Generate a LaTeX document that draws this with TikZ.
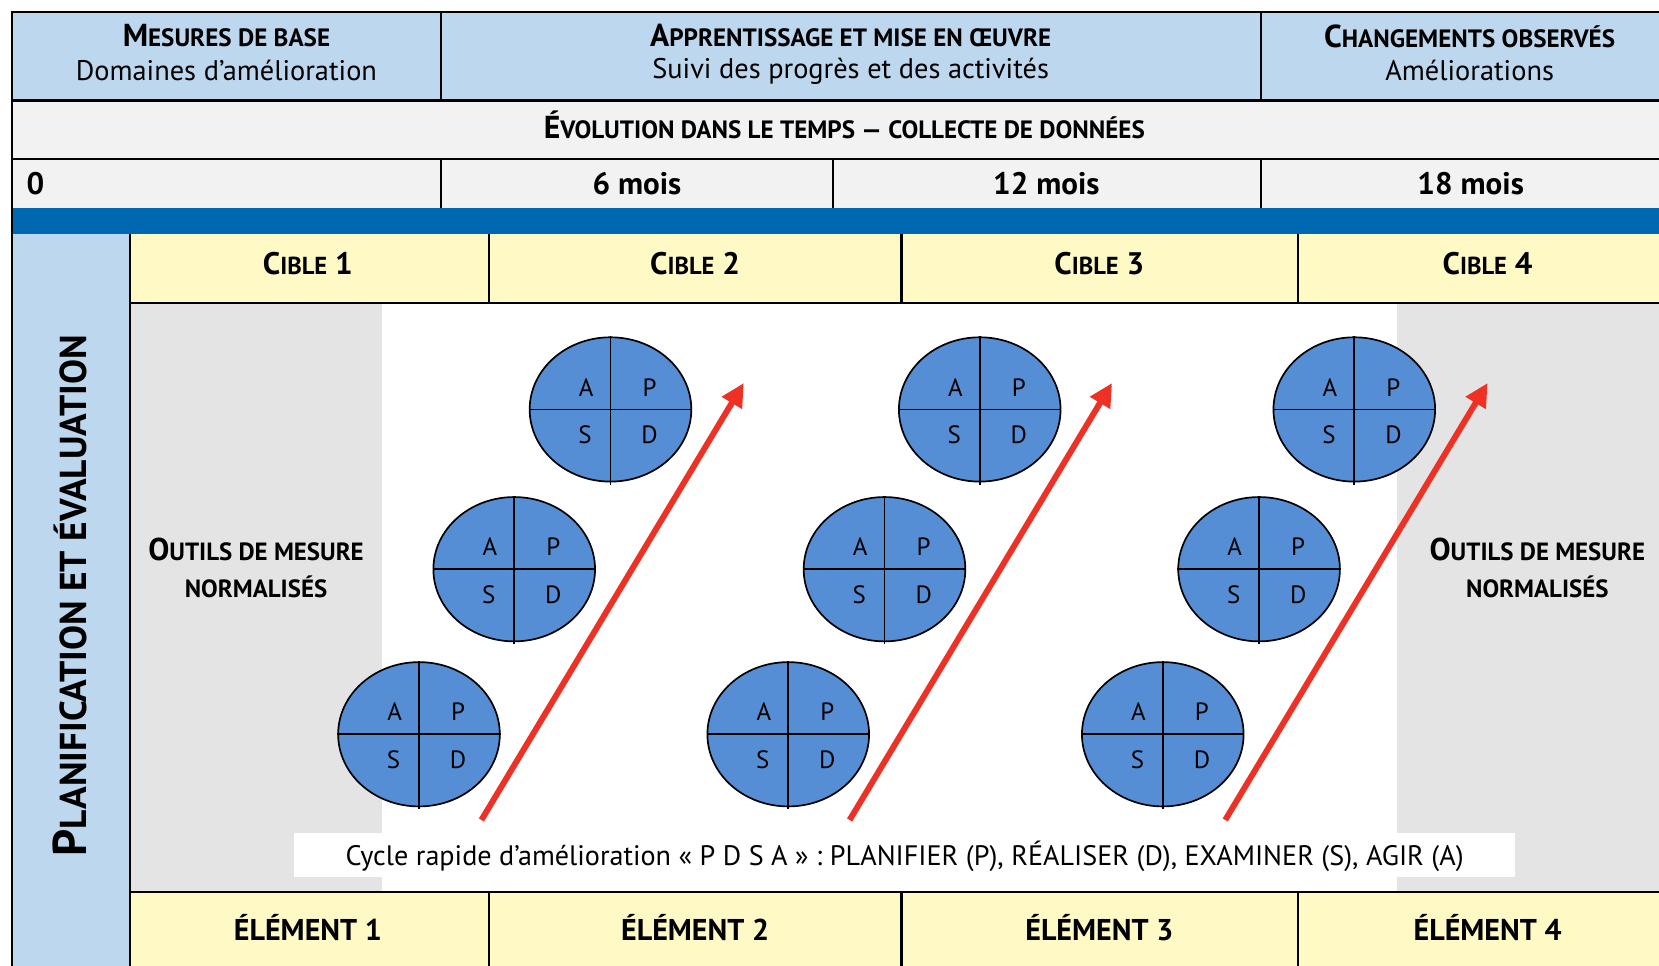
\documentclass[tikz,border=0pt]{standalone}
\usepackage{fontspec}
\setmainfont{PT Sans}
\usetikzlibrary{shapes.geometric,arrows.meta}
\definecolor{headblue}{RGB}{189,215,238}
\definecolor{rowgray}{RGB}{242,242,242}
\definecolor{barblue}{RGB}{0,104,176}
\definecolor{cibleyellow}{RGB}{255,249,197}
\definecolor{toolgray}{RGB}{228,228,228}
\definecolor{pdsablue}{RGB}{85,142,213}
\definecolor{arrowred}{RGB}{238,49,36}
\makeatletter
\newcommand{\pcap}[1]{{\fontsize{\strip@pt\dimexpr.79\dimexpr\f@size pt\relax\relax}{0}\selectfont #1}}
\makeatother

\begin{document}
\begin{tikzpicture}[x=0.5pt,y=-0.5pt,
  grille/.style={line width=1pt},
  titre/.style={align=center,font=\fontsize{13.4}{16}\selectfont},
  gros/.style={font=\bfseries\fontsize{15}{16}\selectfont},
  mois/.style={font=\bfseries\fontsize{14.7}{16}\selectfont},
  cible/.style={font=\bfseries\fontsize{14.7}{16}\selectfont},
  element/.style={font=\bfseries\fontsize{14.2}{16}\selectfont},
  outil/.style={align=center,font=\bfseries\fontsize{14.9}{17.5}\selectfont},
  pdsa/.style={ellipse,draw,fill=pdsablue,line width=0.8pt,minimum width=76.4pt,minimum height=68.2pt,inner sep=0pt},
  lettre/.style={font=\fontsize{11.8}{12}\selectfont,inner sep=0pt},
  fleche/.style={draw=arrowred,line width=2.8pt,-{Triangle[length=11pt,width=10.5pt]}}]

\useasboundingbox (0,0) rectangle (1568,913);
\fill[white] (0,0) rectangle (1568,913);
\fill[headblue] (11,11) rectangle (1568,95);
\fill[rowgray] (11,95) rectangle (1568,197);
\fill[barblue] (11,197) rectangle (1568,221);
\fill[headblue] (11,221) rectangle (123,913);
\fill[cibleyellow] (123,221) rectangle (1568,286);
\fill[toolgray] (123,286) rectangle (361,843);
\fill[toolgray] (1320,286) rectangle (1568,843);
\fill[cibleyellow] (123,843) rectangle (1568,913);
\fill[white] (278,787) rectangle (1432,829);

\draw[grille] (11,913) -- (11,11) -- (1568,11);
\draw[grille] (11,95) -- (1568,95);
\draw[grille] (11,150) -- (1568,150);
\draw[grille] (417,11) -- (417,95);
\draw[grille] (1192,11) -- (1192,95);
\foreach \x in {417,787,1192}
  \draw[grille] (\x,150) -- (\x,197);
\draw[grille] (123,221) -- (123,913);
\draw[grille] (123,286) -- (1568,286);
\draw[grille] (123,843) -- (1568,843);
\foreach \x in {462,852,1227}{
  \draw[grille] (\x,221) -- (\x,286);
  \draw[grille] (\x,843) -- (\x,913);
}

\node[gros] (base) at (214,34) {M\pcap{ESURES DE BASE}};
\node[titre] (basesub) at (214,67) {Domaines d’amélioration};
\node[gros] (suivi) at (804,34) {A\pcap{PPRENTISSAGE ET MISE EN ŒUVRE}};
\node[titre] (suivisub) at (804,67) {Suivi des progrès et des activités};
\node[gros] (chgt) at (1389,34) {C\pcap{HANGEMENTS OBSERVÉS}};
\node[titre] (chgtsub) at (1389,67) {Améliorations};
\node[gros] (evol) at (798,118) {É\pcap{VOLUTION DANS LE TEMPS — COLLECTE DE DONNÉES}};

\node[mois,anchor=west] (m0) at (18,174) {0};
\node[mois] (m6) at (602,174) {6 mois};
\node[mois] (m12) at (989,174) {12 mois};
\node[mois] (m18) at (1390,174) {18 mois};

\foreach \i/\x in {1/291,2/657,3/1039,4/1406}{
  \node[cible] (cible\i) at (\x,249) {C\pcap{IBLE} \i};
  \node[element] (elem\i) at (\x,877) {ÉLÉMENT \i};
}

\node[rotate=90,font=\bfseries\fontsize{22.4}{24}\selectfont] (plan) at (66,563) {P\pcap{LANIFICATION ET ÉVALUATION}};

\node[outil] (outilg) at (242,537) {O\pcap{UTILS DE MESURE}\\\pcap{NORMALISÉS}};
\node[outil] (outild) at (1453,537) {O\pcap{UTILS DE MESURE}\\\pcap{NORMALISÉS}};

\foreach \n/\x/\y in {a1/396/694,a2/486/538,a3/577/387,b1/745/694,b2/836/538,b3/926/387,c1/1099/694,c2/1190/538,c3/1280/387}{
  \node[pdsa] (\n) at (\x,\y) {};
  \draw[line width=0.8pt] (\n.north) -- ([yshift=-1pt]\n.south);
  \draw[line width=0.8pt] (\n.west) -- (\n.east);
  \node[lettre] (\n-A) at ([shift={(-23,-21)}]\n.center) {A};
  \node[lettre] (\n-P) at ([shift={(37,-21)}]\n.center) {P};
  \node[lettre] (\n-S) at ([shift={(-24,24)}]\n.center) {S};
  \node[lettre] (\n-D) at ([shift={(37,24)}]\n.center) {D};
}

\foreach \k/\x in {1/455,2/803,3/1158}{
  \coordinate (dep\k) at (\x,775);
  \coordinate (arr\k) at (\x+248,362);
  \draw[fleche] (dep\k) -- (arr\k);
}

\node[font=\fontsize{13.3}{14}\selectfont] (pdsatxt) at (855,809) {Cycle rapide d’amélioration « P D S A » : PLANIFIER (P), RÉALISER (D), EXAMINER (S), AGIR (A)};
\end{tikzpicture}
\end{document}
